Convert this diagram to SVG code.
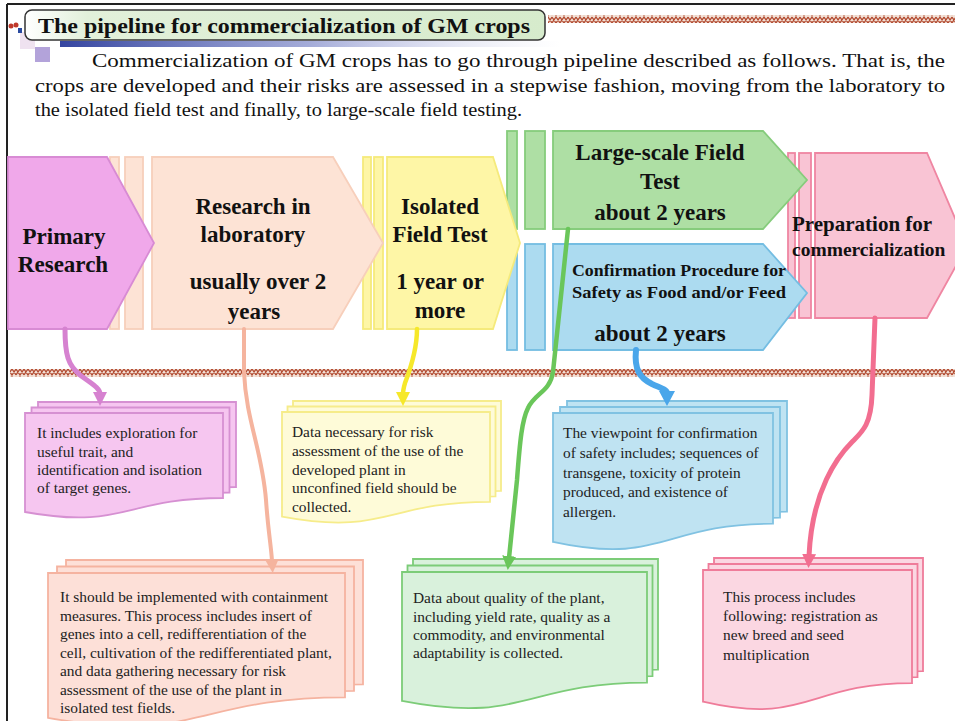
<svg xmlns="http://www.w3.org/2000/svg" xmlns:xlink="http://www.w3.org/1999/xlink" width="955" height="721" viewBox="0 0 955 721">
<style>
.t{font-family:"Liberation Serif","Times New Roman",serif;fill:#111}
.h{font-weight:bold;font-size:23px;text-anchor:middle}
.b{font-size:15.4px;fill:#222}
.p{font-size:19px}
.cn{stroke-width:1.8}
.ln{fill:none;stroke-linecap:round}
</style>
<defs>
<pattern id="zz" width="8" height="8" patternUnits="userSpaceOnUse">
<rect width="8" height="8" fill="#f3e2d8"/>
<path d="M0,1 L4,7 L8,1 M0,7 L4,1 L8,7" fill="none" stroke="#b24a30" stroke-width="1.3"/>
</pattern>
<linearGradient id="tg" x1="0" y1="0" x2="1" y2="0">
<stop offset="0" stop-color="#ffffff"/><stop offset="0.12" stop-color="#e2f0da"/><stop offset="1" stop-color="#d6ebcc"/>
</linearGradient>
<linearGradient id="bar" x1="0" y1="0" x2="1" y2="0">
<stop offset="0" stop-color="#34449f"/><stop offset="0.5" stop-color="#7d88c8" stop-opacity="0.7"/><stop offset="1" stop-color="#c8cce8" stop-opacity="0"/>
</linearGradient>
<marker id="mV" markerUnits="userSpaceOnUse" markerWidth="16" markerHeight="16" refX="2" refY="8" orient="auto"><path d="M0,1 L14,8 L0,15 Z" fill="#d682d0"/></marker>
<marker id="mP" markerUnits="userSpaceOnUse" markerWidth="16" markerHeight="16" refX="2" refY="8" orient="auto"><path d="M0,1 L14,8 L0,15 Z" fill="#f5b49e"/></marker>
<marker id="mY" markerUnits="userSpaceOnUse" markerWidth="16" markerHeight="16" refX="2" refY="8" orient="auto"><path d="M0,1 L14,8 L0,15 Z" fill="#f6e82a"/></marker>
<marker id="mG" markerUnits="userSpaceOnUse" markerWidth="16" markerHeight="16" refX="2" refY="8" orient="auto"><path d="M0,1 L14,8 L0,15 Z" fill="#6ac65a"/></marker>
<marker id="mB" markerUnits="userSpaceOnUse" markerWidth="18" markerHeight="18" refX="2" refY="9" orient="auto"><path d="M0,1 L15,9 L0,17 Z" fill="#4aa6ea"/></marker>
<marker id="mK" markerUnits="userSpaceOnUse" markerWidth="16" markerHeight="16" refX="2" refY="8" orient="auto"><path d="M0,1 L14,8 L0,15 Z" fill="#f26e90"/></marker>
<path id="d1" d="M25,413 H223 V498 C124,498 124,530 25,512 Z"/>
<path id="d2" d="M282,412 H490 V501.8 C386,501.8 386,536 282,516.6 Z"/>
<path id="d3" d="M553,413 H773 V523.7 C663,523.7 663,565.8 553,541.9 Z"/>
<path id="d4" d="M48,573 H345 V697.3 C196.5,697.3 196.5,744.6 48,717.8 Z"/>
<path id="d5" d="M402,572 H647 V682.7 C524.5,682.7 524.5,724.8 402,700.9 Z"/>
<path id="d6" d="M703,570 H912 V683.1 C807.5,683.1 807.5,726.1 703,701.7 Z"/>
</defs>
<rect width="955" height="721" fill="#ffffff"/>

<g id="header">
<line x1="7" y1="4" x2="955" y2="4" stroke="#222" stroke-width="2"/>
<line x1="7" y1="4" x2="7" y2="721" stroke="#222" stroke-width="2"/>
<rect x="548" y="15" width="407" height="8" fill="url(#zz)"/>
<rect x="60" y="41" width="500" height="6" fill="url(#bar)"/>
<rect x="20" y="32" width="15" height="17" fill="#efe2f0"/>
<rect x="35" y="47" width="15" height="15" fill="#b3a3da"/>
<circle cx="11" cy="26" r="2.5" fill="#c0392b"/><circle cx="16" cy="25" r="2.5" fill="#c0392b"/><rect x="18" y="28" width="4" height="5" fill="#2a4aa0"/>
<rect x="25" y="10" width="520" height="30" rx="7" fill="url(#tg)" stroke="#333" stroke-width="1.5"/>
<text class="t" x="38" y="33" font-size="22" font-weight="bold" textLength="492" lengthAdjust="spacingAndGlyphs">The pipeline for commercialization of GM crops</text>
<text class="t p" x="92" y="67" textLength="853" lengthAdjust="spacingAndGlyphs">Commercialization of GM crops has to go through pipeline described as follows. That is, the</text>
<text class="t p" x="35" y="92" textLength="910" lengthAdjust="spacingAndGlyphs">crops are developed and their risks are assessed in a stepwise fashion, moving from the laboratory to</text>
<text class="t p" x="35" y="116" textLength="487" lengthAdjust="spacingAndGlyphs">the isolated field test and finally, to large-scale field testing.</text>
</g>

<rect x="10" y="369" width="945" height="8" fill="url(#zz)"/>

<g id="preparation">
<rect x="788" y="153" width="7" height="165" fill="#f9c4d4" stroke="#ef86a2" class="cn"/>
<rect x="799" y="153" width="12" height="165" fill="#f9c4d4" stroke="#ef86a2" class="cn"/>
<path d="M815,153 H927 L967,246 L927,318 H815 Z" fill="#f9c4d4" stroke="#ef86a2" class="cn"/>
<text class="t" x="792" y="231" font-size="21" font-weight="bold">Preparation for</text>
<text class="t" x="792" y="256" font-size="19.5" font-weight="bold">commercialization</text>
</g>

<g id="safety">
<rect x="507" y="244" width="10" height="106" fill="#acdbf0" stroke="#74bde2" class="cn"/>
<rect x="525" y="244" width="20" height="106" fill="#acdbf0" stroke="#74bde2" class="cn"/>
<path d="M553,244 H763 L807,293 L763,350 H553 Z" fill="#acdbf0" stroke="#74bde2" class="cn"/>
<text class="t" x="572" y="276" font-size="17" font-weight="bold" textLength="214" lengthAdjust="spacingAndGlyphs">Confirmation Procedure for</text>
<text class="t" x="572" y="298" font-size="17" font-weight="bold" textLength="214" lengthAdjust="spacingAndGlyphs">Safety as Food and/or Feed</text>
<text class="t h" x="660" y="341">about 2 years</text>
</g>

<g id="largescale">
<rect x="507" y="131" width="10" height="98" fill="#aedfa4" stroke="#86cc7c" class="cn"/>
<rect x="525" y="131" width="20" height="98" fill="#aedfa4" stroke="#86cc7c" class="cn"/>
<path d="M553,131 H763 L807,180 L763,229 H553 Z" fill="#aedfa4" stroke="#86cc7c" class="cn"/>
<text class="t h" x="660" y="160">Large-scale Field</text>
<text class="t h" x="660" y="189">Test</text>
<text class="t h" x="660" y="220">about 2 years</text>
</g>

<g id="isolated">
<rect x="363" y="157" width="8" height="172" fill="#fef6a6" stroke="#f5ea7c" class="cn"/>
<rect x="374" y="157" width="9" height="172" fill="#fef6a6" stroke="#f5ea7c" class="cn"/>
<path d="M387,157 H493 L520,243 L493,329 H387 Z" fill="#fef6a6" stroke="#f5ea7c" class="cn"/>
<text class="t h" x="440" y="214">Isolated</text>
<text class="t h" x="440" y="242">Field Test</text>
<text class="t h" x="440" y="289">1 year or</text>
<text class="t h" x="440" y="318">more</text>
</g>

<g id="laboratory">
<rect x="110" y="157" width="9" height="172" fill="#fde3d5" stroke="#f7cfbb" class="cn"/>
<rect x="125" y="157" width="18" height="172" fill="#fde3d5" stroke="#f7cfbb" class="cn"/>
<path d="M152,157 H333 L383,243 L333,329 H152 Z" fill="#fde3d5" stroke="#f7cfbb" class="cn"/>
<text class="t h" x="253" y="214">Research in</text>
<text class="t h" x="253" y="242">laboratory</text>
<text class="t h" x="258" y="289">usually over 2</text>
<text class="t h" x="254" y="319">years</text>
</g>

<g id="primary">
<path d="M8,157 H107 L154,243 L107,329 H8 Z" fill="#f0a8ea" stroke="#d88bd4" class="cn"/>
<text class="t h" x="64" y="244">Primary</text>
<text class="t h" x="63" y="272">Research</text>
</g>

<g id="note-primary">
<use href="#d1" transform="translate(13,-11)" fill="#f6c6f0" stroke="#d690d2" class="cn"/>
<use href="#d1" transform="translate(6.5,-5.5)" fill="#f6c6f0" stroke="#d690d2" class="cn"/>
<use href="#d1" fill="#f6c6f0" stroke="#d690d2" class="cn"/>
<text class="t b"><tspan x="37" y="438">It includes exploration for</tspan><tspan x="37" y="457">useful trait, and</tspan><tspan x="37" y="475">identification and isolation</tspan><tspan x="37" y="493">of target genes.</tspan></text>
</g>

<g id="note-isolated">
<use href="#d2" transform="translate(11,-11)" fill="#fefbd8" stroke="#f6ec8a" class="cn"/>
<use href="#d2" transform="translate(5.5,-5.5)" fill="#fefbd8" stroke="#f6ec8a" class="cn"/>
<use href="#d2" fill="#fefbd8" stroke="#f6ec8a" class="cn"/>
<text class="t b"><tspan x="292" y="437">Data necessary for risk</tspan><tspan x="292" y="456">assessment of the use of the</tspan><tspan x="292" y="475">developed plant in</tspan><tspan x="292" y="493">unconfined field should be</tspan><tspan x="292" y="512">collected.</tspan></text>
</g>

<g id="note-safety">
<use href="#d3" transform="translate(14,-12)" fill="#bfe3f2" stroke="#80c2e2" class="cn"/>
<use href="#d3" transform="translate(7,-6)" fill="#bfe3f2" stroke="#80c2e2" class="cn"/>
<use href="#d3" fill="#bfe3f2" stroke="#80c2e2" class="cn"/>
<text class="t b"><tspan x="563" y="438">The viewpoint for confirmation</tspan><tspan x="563" y="458">of safety includes; sequences of</tspan><tspan x="563" y="478">transgene, toxicity of protein</tspan><tspan x="563" y="497">produced, and existence of</tspan><tspan x="563" y="517">allergen.</tspan></text>
</g>

<g id="note-laboratory">
<use href="#d4" transform="translate(18,-13)" fill="#fde0d8" stroke="#f5b3a0" class="cn"/>
<use href="#d4" transform="translate(9,-6.5)" fill="#fde0d8" stroke="#f5b3a0" class="cn"/>
<use href="#d4" fill="#fde0d8" stroke="#f5b3a0" class="cn"/>
<text class="t b"><tspan x="60" y="602">It should be implemented with containment</tspan><tspan x="60" y="620.5">measures. This process includes insert of</tspan><tspan x="60" y="639">genes into a cell, redifferentiation of the</tspan><tspan x="60" y="657.5">cell, cultivation of the redifferentiated plant,</tspan><tspan x="60" y="676">and data gathering necessary for risk</tspan><tspan x="60" y="694.5">assessment of the use of the plant in</tspan><tspan x="60" y="713">isolated test fields.</tspan></text>
</g>

<g id="note-largescale">
<use href="#d5" transform="translate(11,-13)" fill="#d9f1dc" stroke="#7ccc78" class="cn"/>
<use href="#d5" transform="translate(5.5,-6.5)" fill="#d9f1dc" stroke="#7ccc78" class="cn"/>
<use href="#d5" fill="#d9f1dc" stroke="#7ccc78" class="cn"/>
<text class="t b"><tspan x="413" y="603">Data about quality of the plant,</tspan><tspan x="413" y="622">including yield rate, quality as a</tspan><tspan x="413" y="640">commodity, and environmental</tspan><tspan x="413" y="658">adaptability is collected.</tspan></text>
</g>

<g id="note-preparation">
<use href="#d6" transform="translate(11,-12)" fill="#fbd7e2" stroke="#ef7c9a" class="cn"/>
<use href="#d6" transform="translate(5.5,-6)" fill="#fbd7e2" stroke="#ef7c9a" class="cn"/>
<use href="#d6" fill="#fbd7e2" stroke="#ef7c9a" class="cn"/>
<text class="t b"><tspan x="723" y="602">This process includes</tspan><tspan x="723" y="621">following: registration as</tspan><tspan x="723" y="640">new breed and seed</tspan><tspan x="723" y="660">multiplication</tspan></text>
</g>

<g id="connectors">
<path class="ln" d="M65,329 C65,355 68,365 80,375 C92,384 100,388 100,394" stroke="#d682d0" stroke-width="5" marker-end="url(#mV)"/>
<path class="ln" d="M244,329 L244,372 C246,420 262,450 266,500 C268,530 271,545 272,561" stroke="#f5b49e" stroke-width="4" marker-end="url(#mP)"/>
<path class="ln" d="M417,329 C417,350 410,370 405,383 C403,390 403,392 403,394" stroke="#f6e82a" stroke-width="4.5" marker-end="url(#mY)"/>
<path class="ln" d="M568,229 L553,372 C550,392 535,393 528,408 C522,420 520,440 517,480 L509,558" stroke="#6ac65a" stroke-width="4.5" marker-end="url(#mG)"/>
<path class="ln" d="M636,350 C634,370 640,378 652,384 C663,389 667,390 667,393" stroke="#4aa6ea" stroke-width="6" marker-end="url(#mB)"/>
<path class="ln" d="M875,318 L872,395 C871,425 862,432 852,442 C838,456 812,490 809,556" stroke="#f26e90" stroke-width="5" marker-end="url(#mK)"/>
</g>
</svg>
